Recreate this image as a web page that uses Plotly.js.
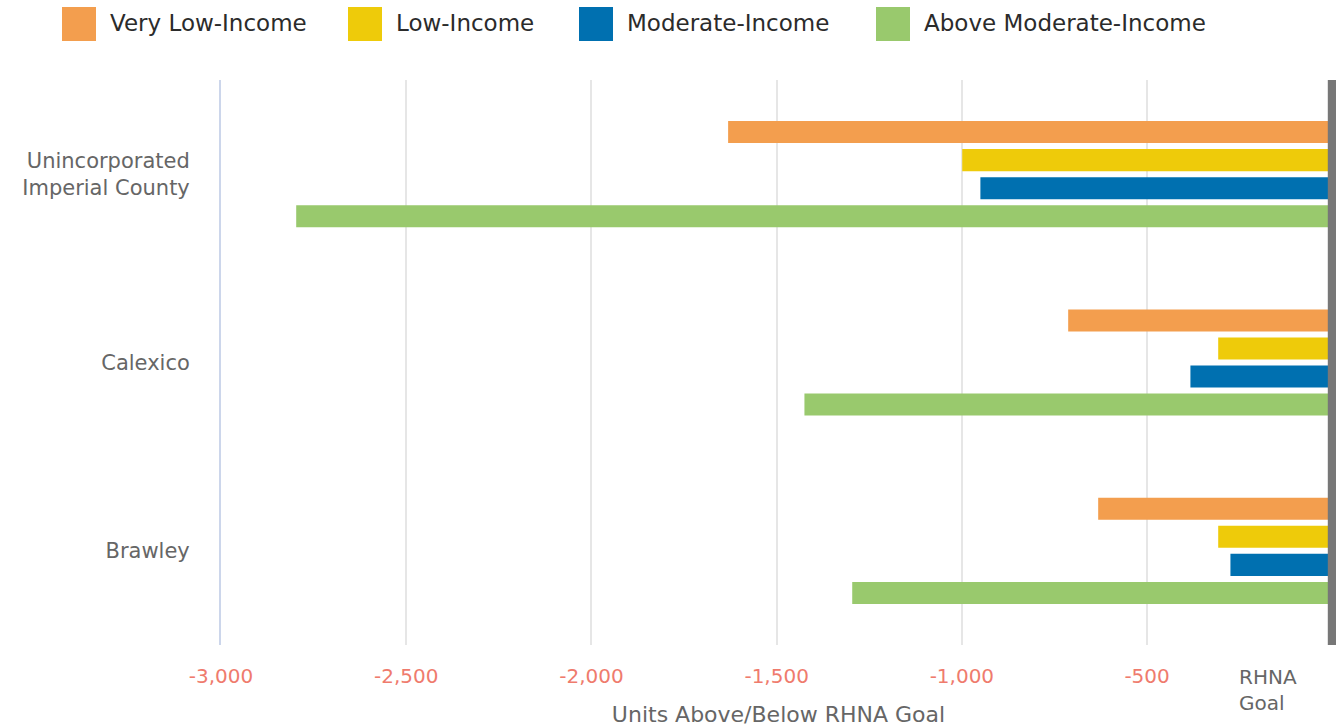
<!DOCTYPE html>
<html>
<head>
<meta charset="utf-8">
<script src="https://cdn.plot.ly/plotly-3.0.1.min.js"></script>
<style>
html,body{margin:0;padding:0;background:#fff;}
#chart{width:1337px;height:727px;}
</style>
</head>
<body>
<div id="chart"></div>
<script>
// ---- data ----
const categories = ["Unincorporated<br>Imperial County", "Calexico", "Brawley"];
const seriesNames = ["Very Low-Income", "Low-Income", "Moderate-Income", "Above Moderate-Income"];
const veryLowIncome = [-1631, -713, -632];
const lowIncome = [-999, -308, -308];
const moderateIncome = [-950, -383, -275];
const aboveModerateIncome = [-2797, -1425, -1296];
const xTickVals = [-3000, -2500, -2000, -1500, -1000, -500];
const xTickText = ["-3,000", "-2,500", "-2,000", "-1,500", "-1,000", "-500"];
const goalValue = 0;
const goalLabel = "RHNA<br>Goal";
const xAxisTitle = "Units Above/Below RHNA Goal";

// ---- style ----
const colors = ["#f39e4e", "#eecb0a", "#0070b0", "#99c96d"];
const FONT = "DejaVu Sans, sans-serif";
const W = 1337, H = 727;
const M = {l: 221, r: 1, t: 80, b: 82};
const plotW = W - M.l - M.r, plotH = H - M.t - M.b;
const px2x = p => (p - M.l) / plotW;
const px2y = p => (H - M.b - p) / plotH;

const allSeries = [veryLowIncome, lowIncome, moderateIncome, aboveModerateIncome];
const traces = allSeries.map((vals, i) => ({
  type: "bar",
  orientation: "h",
  name: seriesNames[i],
  x: vals,
  y: categories,
  marker: {color: colors[i]},
  hoverinfo: "x+name",
  showlegend: false
}));

// custom legend (large square swatches)
const legendSquareX = [62, 348, 579, 876];
const shapes = [];
const annotations = [];
seriesNames.forEach((n, i) => {
  shapes.push({
    type: "rect", xref: "paper", yref: "paper",
    x0: px2x(legendSquareX[i]), x1: px2x(legendSquareX[i] + 34),
    y0: px2y(41), y1: px2y(7),
    fillcolor: colors[i], line: {width: 0}
  });
  annotations.push({
    xref: "paper", yref: "paper",
    x: px2x(legendSquareX[i] + 46), y: px2y(23),
    xanchor: "left", yanchor: "middle",
    text: n, showarrow: false,
    font: {family: FONT, size: 23, color: "#2b2b2b"}
  });
});
// RHNA goal line at zero
shapes.push({
  type: "line", xref: "x", yref: "paper",
  x0: goalValue, x1: goalValue, y0: 0, y1: 1,
  line: {color: "#777777", width: 9},
  layer: "above"
});
annotations.push({
  xref: "paper", yref: "paper",
  x: px2x(1237), y: px2y(690),
  xanchor: "left", yanchor: "middle", align: "left",
  text: goalLabel, showarrow: false,
  font: {family: FONT, size: 20, color: "#666666"}
});

const layout = {
  width: W, height: H,
  margin: M,
  paper_bgcolor: "#ffffff",
  plot_bgcolor: "#ffffff",
  barmode: "group",
  bargap: 0.404,
  bargroupgap: 0.214,
  showlegend: false,
  font: {family: FONT},
  xaxis: {
    range: [-3000, 10],
    tickvals: xTickVals,
    ticktext: xTickText,
    showgrid: true,
    gridcolor: "#e6e6e6",
    gridwidth: 2,
    zeroline: false,
    ticks: "",
    ticklabelstandoff: 17,
    tickfont: {family: FONT, size: 20, color: "#ef7b6d"},
    title: {text: xAxisTitle, standoff: 20, font: {family: FONT, size: 22, color: "#666666"}},
    fixedrange: true
  },
  yaxis: {
    autorange: "reversed",
    showgrid: false,
    zeroline: false,
    showline: true,
    linecolor: "#ccd6eb",
    linewidth: 2,
    ticks: "",
    ticklabelstandoff: 25,
    tickfont: {family: FONT, size: 21, color: "#666666"},
    fixedrange: true
  },
  shapes: shapes,
  annotations: annotations
};

Plotly.newPlot("chart", traces, layout, {displayModeBar: false});
</script>
</body>
</html>
